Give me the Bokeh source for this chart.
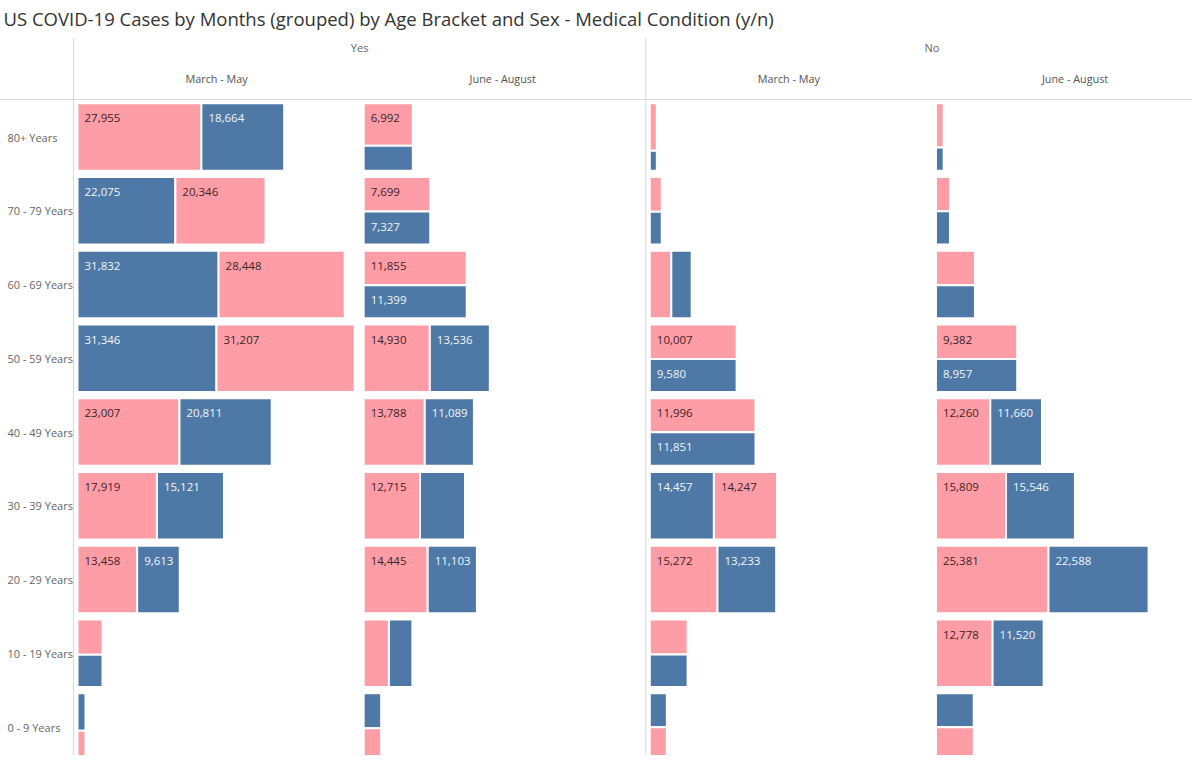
import numpy as np
from bokeh.plotting import figure
from bokeh.models import Range1d, ColumnDataSource
from bokeh.core.properties import value
from bokeh.embed import file_html
from bokeh.resources import INLINE

# ---------------- data ----------------
TITLE = "US COVID-19 Cases by Months (grouped) by Age Bracket and Sex - Medical Condition (y/n)"
age_brackets = ["80+ Years", "70 - 79 Years", "60 - 69 Years", "50 - 59 Years", "40 - 49 Years",
                "30 - 39 Years", "20 - 29 Years", "10 - 19 Years", "0 - 9 Years"]
conditions = ["Yes", "No"]
month_groups = ["March - May", "June - August"]

yes_mar_may_female = [27955, 20346, 28448, 31207, 23007, 17919, 13458, 2950, 800]
yes_mar_may_male = [18664, 22075, 31832, 31346, 20811, 15121, 9613, 2690, 1000]

yes_jun_aug_female = [6992, 7699, 11855, 14930, 13788, 12715, 14445, 5700, 1900]
yes_jun_aug_male = [4100, 7327, 11399, 13536, 11089, 10150, 11103, 5300, 2050]

no_mar_may_female = [1110, 1390, 4850, 10007, 11996, 14247, 15272, 4420, 1900]
no_mar_may_male = [470, 1310, 4600, 9580, 11851, 14457, 13233, 4110, 1940]

no_jun_aug_female = [1140, 1600, 4500, 9382, 12260, 15809, 25381, 12778, 4240]
no_jun_aug_male = [600, 1560, 4300, 8957, 11660, 15546, 22588, 11520, 4290]

# treemap split of each cell as drawn in the original: h = side by side, v = stacked
split_yes_mar_may = "hhhhhhhvv"
split_yes_jun_aug = "vvvhhhhhv"
split_no_mar_may = "vvhvvhhvv"
split_no_jun_aug = "vvvvhhhhv"

# ---------------- style / layout ----------------
FEMALE_COLOR = "#FF9DA7"
MALE_COLOR = "#4E79A7"
FONT = "Open Sans"

W, H = 1192, 755
CPX = 225.6            # cases per pixel (x scale)
PITCH = 73.75          # pixels per row
COL_W = 286.15 * CPX   # width of one month column
PAD = 4 * CPX
HH = 33.75 / PITCH     # half height of a cell (incl. white outline)

x_start = -73 * CPX
x_end = x_start + W * CPX
y_top = 136.5 / PITCH
y_bot = y_top - H / PITCH


def yu(py):
    return y_top - py / PITCH


panels = [
    (yes_mar_may_female, yes_mar_may_male, split_yes_mar_may),
    (yes_jun_aug_female, yes_jun_aug_male, split_yes_jun_aug),
    (no_mar_may_female, no_mar_may_male, split_no_mar_may),
    (no_jun_aug_female, no_jun_aug_male, split_no_jun_aug),
]

rects = dict(left=[], right=[], top=[], bottom=[], color=[])
labels = dict(x=[], y=[], text=[], color=[])

for c, (fem, mal, split) in enumerate(panels):
    x0 = c * COL_W + PAD
    for i, (f, m) in enumerate(zip(fem, mal)):
        items = sorted([(f, FEMALE_COLOR), (m, MALE_COLOR)], key=lambda t: -t[0])
        total = f + m
        top, bot = -i + HH, -i - HH
        boxes = []
        if split[i] == "h":
            left = x0
            for v, col in items:
                boxes.append((left, left + v, top, bot, v, col))
                left += v
        else:
            y = top
            for v, col in items:
                h = (top - bot) * v / total
                boxes.append((x0, x0 + total, y, y - h, v, col))
                y -= h
        for (l, r, t, b, v, col) in boxes:
            rects["left"].append(l)
            rects["right"].append(r)
            rects["top"].append(t)
            rects["bottom"].append(b)
            rects["color"].append(col)
            txt = f"{v:,}"
            w_px = (r - l) / CPX - 2
            h_px = (t - b) * PITCH - 2
            tw = sum(3 if ch == "," else 6.4 for ch in txt)
            if w_px >= tw + 11 and h_px >= 28:
                labels["x"].append(l + 7 * CPX)
                labels["y"].append(t - 15 / PITCH)
                labels["text"].append(txt)
                labels["color"].append("#3A2428" if col == FEMALE_COLOR else "#F2F5F9")

p = figure(width=W, height=H, x_range=Range1d(x_start, x_end), y_range=Range1d(y_bot, y_top),
           output_backend="svg", toolbar_location=None, min_border=0,
           x_axis_location=None, y_axis_location=None, title=None,
           outline_line_color=None, background_fill_color="white", border_fill_color="white")
p.grid.visible = False

# separator lines
line_col = "#D9D9D9"
p.segment(x0=[x_start], y0=[yu(99)], x1=[x_end], y1=[yu(99)], line_color=line_col, line_width=1)
p.segment(x0=[0, 2 * COL_W], y0=[yu(37)] * 2, x1=[0, 2 * COL_W], y1=[y_bot] * 2,
          line_color=line_col, line_width=1)

# treemap cells
p.quad(source=ColumnDataSource(rects), left="left", right="right", top="top", bottom="bottom",
       fill_color="color", line_color="white", line_width=2)

# value labels
p.text(source=ColumnDataSource(labels), x="x", y="y", text="text", text_color="color",
       text_font=value(FONT), text_font_size="11.5px", text_baseline="middle", text_align="left")

# title
p.text(x=[x_start + 3 * CPX], y=[yu(18)], text=[TITLE], text_font=value(FONT),
       text_font_size="18.5px", text_color="#333333", text_baseline="middle", text_align="left")

# condition headers
p.text(x=[(2 * k + 1) * COL_W for k in range(len(conditions))], y=[yu(47)] * len(conditions),
       text=conditions, text_font=value(FONT), text_font_size="11px", text_color="#666666",
       text_baseline="middle", text_align="center")

# month headers
p.text(x=[(c + 0.5) * COL_W for c in range(4)], y=[yu(77.5)] * 4,
       text=month_groups * 2, text_font=value(FONT), text_font_size="10.8px", text_color="#555555",
       text_baseline="middle", text_align="center")

# row labels
p.text(x=[x_start + 7 * CPX] * len(age_brackets), y=[-i for i in range(len(age_brackets))],
       text=age_brackets, text_font=value(FONT), text_font_size="11px", text_color="#666666",
       text_baseline="middle", text_align="left")

open("out.html", "w").write(file_html(p, INLINE))
